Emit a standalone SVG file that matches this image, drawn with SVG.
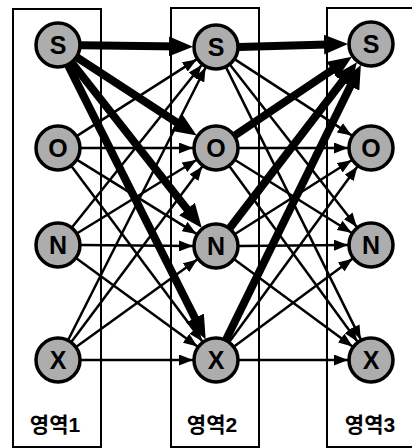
<svg xmlns="http://www.w3.org/2000/svg" width="412" height="448" viewBox="0 0 412 448">
<style>
.col{fill:none;stroke:#000;stroke-width:2}
.thin{stroke:#000;stroke-width:2.5;fill:none;marker-end:url(#ah)}
.thick{stroke:#000;stroke-width:8;fill:none;marker-end:url(#ahb)}
.node circle{fill:#adadad;stroke:#000;stroke-width:3.5}
.node text{font-family:"Liberation Sans","DejaVu Sans",sans-serif;font-weight:bold;font-size:25px;text-anchor:middle;fill:#000}
.lbl{font-family:"Liberation Sans","Noto Sans CJK KR",sans-serif;font-weight:bold;font-size:21px;text-anchor:middle;fill:#000}
</style>
<defs>
<marker id="ah" markerUnits="userSpaceOnUse" markerWidth="14" markerHeight="11" refX="14" refY="5.5" orient="auto"><path d="M0,0 L14,5.5 L0,11 Z" fill="#000"/></marker>
<marker id="ahb" markerUnits="userSpaceOnUse" markerWidth="24" markerHeight="20" refX="12" refY="10" orient="auto"><path d="M0,0 L24,10 L0,20 Z" fill="#000"/></marker>
</defs>
<rect width="412" height="448" fill="#fff"/>
<g id="columns">
<rect class="col" x="13" y="9" width="88" height="438"/>
<rect class="col" x="171" y="8" width="88" height="439"/>
<rect class="col" x="327" y="8" width="100" height="439"/>
</g>
<g id="connectors">
<line class="thin" x1="77.4" y1="135.6" x2="196.6" y2="59.4"/>
<line class="thin" x1="81" y1="148" x2="193" y2="148"/>
<line class="thin" x1="77.5" y1="160.1" x2="196.5" y2="233.9"/>
<line class="thin" x1="71.7" y1="166.4" x2="202.3" y2="341.6"/>
<line class="thin" x1="72.3" y1="227" x2="201.7" y2="65"/>
<line class="thin" x1="77.6" y1="233" x2="196.4" y2="160"/>
<line class="thin" x1="81" y1="245" x2="193" y2="246"/>
<line class="thin" x1="76.6" y1="258.5" x2="197.4" y2="346.5"/>
<line class="thin" x1="68.4" y1="339.5" x2="205.6" y2="67.5"/>
<line class="thin" x1="71.7" y1="341.6" x2="202.3" y2="166.4"/>
<line class="thin" x1="76.7" y1="346.5" x2="197.3" y2="259.5"/>
<line class="thin" x1="81" y1="360" x2="193" y2="360"/>
<line class="thin" x1="235.3" y1="59.6" x2="351.7" y2="135.4"/>
<line class="thin" x1="230.2" y1="65.1" x2="356.8" y2="226.9"/>
<line class="thin" x1="226.2" y1="67.6" x2="360.8" y2="339.4"/>
<line class="thin" x1="239" y1="148" x2="348" y2="148"/>
<line class="thin" x1="235.5" y1="160.2" x2="351.5" y2="232.8"/>
<line class="thin" x1="229.6" y1="166.6" x2="357.4" y2="341.4"/>
<line class="thin" x1="235.4" y1="233.7" x2="351.6" y2="160.3"/>
<line class="thin" x1="239" y1="246" x2="348" y2="245"/>
<line class="thin" x1="234.5" y1="259.6" x2="352.5" y2="346.4"/>
<line class="thin" x1="229.6" y1="341.4" x2="357.4" y2="166.6"/>
<line class="thin" x1="234.5" y1="346.3" x2="352.5" y2="258.7"/>
<line class="thin" x1="239" y1="360" x2="348" y2="360"/>
<line class="thick" x1="81" y1="45.3" x2="181" y2="46.55"/>
<line class="thick" x1="77.3" y1="57.6" x2="186.65" y2="128.85"/>
<line class="thick" x1="72.2" y1="63.1" x2="194.4" y2="218.5"/>
<line class="thick" x1="68.3" y1="65.6" x2="200.3" y2="328.7"/>
<line class="thick" x1="239" y1="46.9" x2="336" y2="44.3"/>
<line class="thick" x1="235.1" y1="135.2" x2="341.9" y2="63.5"/>
<line class="thick" x1="230" y1="227.8" x2="349.7" y2="71.7"/>
<line class="thick" x1="226.1" y1="339.4" x2="355.6" y2="75.4"/>
</g>
<g id="S1" class="node"><circle cx="58" cy="45" r="22"/><text x="58" y="54">S</text></g>
<g id="O1" class="node"><circle cx="58" cy="148" r="22"/><text x="58" y="157">O</text></g>
<g id="N1" class="node"><circle cx="58" cy="245" r="22"/><text x="58" y="254">N</text></g>
<g id="X1" class="node"><circle cx="58" cy="360" r="22"/><text x="58" y="369">X</text></g>
<g id="S2" class="node"><circle cx="216" cy="47" r="22"/><text x="216" y="56">S</text></g>
<g id="O2" class="node"><circle cx="216" cy="148" r="22"/><text x="216" y="157">O</text></g>
<g id="N2" class="node"><circle cx="216" cy="246" r="22"/><text x="216" y="255">N</text></g>
<g id="X2" class="node"><circle cx="216" cy="360" r="22"/><text x="216" y="369">X</text></g>
<g id="S3" class="node"><circle cx="371" cy="44" r="22"/><text x="371" y="53">S</text></g>
<g id="O3" class="node"><circle cx="371" cy="148" r="22"/><text x="371" y="157">O</text></g>
<g id="N3" class="node"><circle cx="371" cy="245" r="22"/><text x="371" y="254">N</text></g>
<g id="X3" class="node"><circle cx="371" cy="360" r="22"/><text x="371" y="369">X</text></g>
<g id="labels">
<text class="lbl" x="55" y="432">영역1</text>
<text class="lbl" x="212" y="432">영역2</text>
<text class="lbl" x="370" y="432">영역3</text>
</g>
</svg>
